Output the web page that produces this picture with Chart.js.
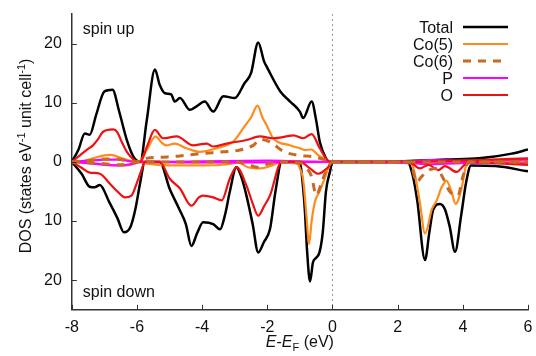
<!DOCTYPE html>
<html>
<head>
<meta charset="utf-8">
<script src="https://cdn.jsdelivr.net/npm/chart.js@4.4.0/dist/chart.umd.min.js"></script>
<style>
  html, body { margin: 0; padding: 0; background: #fff; }
  canvas { display: block; }
</style>
</head>
<body>
<canvas id="chartjs" width="536" height="356" style="width:536px;height:356px"></canvas>
<script>
// [energy (eV), DOS] pairs; "down" values are magnitudes
const totalUp = [[-8,0],[-7.8,2.0],[-7.6,4.8],[-7.45,4.6],[-7.25,8.0],[-7.0,11.9],[-6.75,12.2],[-6.55,8.6],[-6.3,3.5],[-6.1,0.8],[-5.9,0],[-5.7,7],[-5.45,15.6],[-5.3,13],[-5.14,11.6],[-4.95,11.4],[-4.84,10.2],[-4.68,10.8],[-4.38,8.8],[-4.17,9.4],[-3.92,10.2],[-3.66,8.5],[-3.35,11.1],[-3.0,10.8],[-2.7,13.3],[-2.5,15],[-2.28,20.2],[-2.1,17],[-2.0,15.9],[-1.6,11.9],[-1.3,10.2],[-1.0,8.5],[-0.9,7.4],[-0.64,10.2],[-0.5,7],[-0.39,3.4],[-0.2,0.6],[-0.1,0],[1.5,0],[2.5,0.2],[3.5,0.4],[4.5,0.6],[5.5,1.4],[6,2.1]]
const totalDown = [[-8,0],[-7.7,2.0],[-7.45,4.2],[-7.3,4.3],[-7.14,3.9],[-6.85,6.8],[-6.6,9.5],[-6.4,11.9],[-6.2,11.0],[-6.05,8],[-5.9,3.5],[-5.76,0],[-5.3,0],[-5.0,4.5],[-4.7,8.0],[-4.5,10.5],[-4.33,14.2],[-4.15,12],[-3.97,10.2],[-3.66,10.5],[-3.45,11.4],[-3.3,9],[-3.15,5],[-2.95,0.9],[-2.8,2.5],[-2.64,5.7],[-2.45,10.5],[-2.28,15.3],[-2.1,13.5],[-1.92,11.4],[-1.75,5],[-1.56,0],[-1.0,0],[-0.95,1.7],[-0.85,8],[-0.78,15],[-0.69,20.2],[-0.6,17],[-0.5,16.2],[-0.4,15.3],[-0.3,12],[-0.2,5],[-0.08,1.7],[0,0],[2.3,0],[2.45,2],[2.6,6.5],[2.84,16.6],[2.97,12],[3.09,8.1],[3.3,7.1],[3.45,8],[3.6,11],[3.76,15.2],[3.95,9],[4.1,3.5],[4.25,0.6],[5.0,0.7],[6,1.6]]
const co5Up = [[-8,0],[-7.6,0.2],[-7.3,0.7],[-7.0,1.1],[-6.8,1.2],[-6.5,0.7],[-6.2,0.2],[-5.95,0],[-5.7,2],[-5.43,4.3],[-5.25,3.3],[-5.1,2.8],[-4.84,3.1],[-4.48,2.3],[-4.07,1.7],[-3.56,2.3],[-3.05,3.4],[-2.7,6.0],[-2.5,7.5],[-2.3,9.5],[-2.15,7.5],[-2.02,6.2],[-1.82,4.0],[-1.31,2.8],[-1.0,2.3],[-0.85,2.0],[-0.65,2.1],[-0.45,1.2],[-0.28,0.6],[-0.1,0],[6,0]]
const co5Down = [[-8,0],[-7.5,0.2],[-7,0.4],[-6.5,0.6],[-6.2,0.5],[-5.95,0],[-5.7,0.3],[-5,0.6],[-4,0.6],[-3.2,0.4],[-2.9,0.1],[-2.6,0.9],[-2.2,1.1],[-1.9,0.7],[-1.6,0.1],[-1.1,0.3],[-1.0,1.1],[-0.9,3],[-0.8,9],[-0.72,13.9],[-0.64,10],[-0.54,6.8],[-0.4,5],[-0.28,3.4],[-0.1,0.7],[0,0],[2.3,0],[2.48,1],[2.68,6.8],[2.84,12.1],[3.05,8],[3.2,6.5],[3.35,4.3],[3.5,3.2],[3.65,5],[3.78,7.1],[3.96,4.5],[4.1,0.6],[4.2,0],[6,0]]
const co6Up = [[-8,0],[-7.5,0.2],[-7.0,0.5],[-6.6,0.5],[-6.3,0.2],[-6.0,0],[-5.71,0.6],[-5.2,0.8],[-4.68,1.0],[-4.07,1.4],[-3.35,1.7],[-2.84,2.0],[-2.43,2.8],[-2.2,3.8],[-1.92,3.4],[-1.51,1.8],[-1.05,1.1],[-0.55,0.85],[-0.2,0.3],[0,0],[6,0]]
const co6Down = [[-8,0],[-7,0.3],[-6.5,0.5],[-6,0],[-3,0],[-2.6,0.4],[-2.3,0.9],[-2.0,0.4],[-1.6,0],[-1.0,0.2],[-0.8,1.0],[-0.64,2.5],[-0.5,5.6],[-0.35,3.8],[-0.2,1.5],[-0.05,0.2],[0,0],[2.3,0],[2.45,1.2],[2.58,3.4],[2.75,2.4],[3.0,1.3],[3.2,1.1],[3.38,2.6],[3.6,5.0],[3.85,5.7],[4.0,2.5],[4.12,0.5],[4.2,0],[6,0]]
const pUp = [[-8,0],[-7.5,0.2],[-7,0.4],[-6.6,0.4],[-6.2,0.1],[-5.9,0],[-4,0.1],[-2,0.2],[-1,0.1],[0,0],[2.3,0],[3,0.3],[4,0.2],[5,0.3],[6,0.4]]
const pDown = [[-8,0],[-7.5,0.2],[-7,0.5],[-6.5,0.6],[-6.1,0.3],[-5.9,0],[-4,0.1],[-2,0.1],[0,0],[2.4,0.2],[3,0.4],[4,0.2],[5,0.2],[6,0.3]]
const oUp = [[-8,0],[-7.75,1.1],[-7.5,2.2],[-7.35,2.8],[-7.2,3.8],[-7.04,5.1],[-6.73,5.5],[-6.6,5.0],[-6.47,3.4],[-6.3,1.6],[-6.1,0.4],[-5.9,0],[-5.7,2.5],[-5.45,5.4],[-5.2,4.0],[-4.78,4.3],[-4.28,2.8],[-3.86,3.1],[-3.66,2.6],[-3.25,3.1],[-2.64,3.7],[-2.23,4.3],[-1.82,4.0],[-1.41,4.3],[-1.2,4.5],[-0.9,4.0],[-0.64,4.7],[-0.39,2.3],[-0.14,0.2],[0,0],[2.0,0],[4.5,0.3],[6,0.6]]
const oDown = [[-8,0],[-7.7,1.0],[-7.45,1.8],[-7.14,2.0],[-6.83,3.7],[-6.6,5.0],[-6.37,6.0],[-6.17,5.7],[-6.0,3.5],[-5.85,1.2],[-5.76,0],[-5.3,0],[-5.0,2.8],[-4.68,4.5],[-4.33,7.4],[-4.1,6.0],[-3.97,5.7],[-3.66,6.0],[-3.4,6.5],[-3.15,2.8],[-2.94,0.9],[-2.64,4.0],[-2.45,7],[-2.28,9.1],[-2.1,7.5],[-1.92,5.7],[-1.56,0],[-1.0,0],[-0.69,1.1],[-0.44,2.0],[-0.15,1.0],[0,0],[2.3,0],[2.45,0.3],[2.68,1.1],[2.95,0.5],[3.25,1.4],[3.45,0.7],[3.81,1.7],[4.05,0.5],[4.3,0],[5,0.2],[6,0.5]]

const xTicks = [-8, -6, -4, -2, 0, 2, 4, 6]
const yTicks = [-20, -10, 0, 10, 20]

const FONT = '"Liberation Sans", Arial, Helvetica, sans-serif'

// name, up, down, colour, width, dash, draw order (lower = on top)
const series = [
  { name: 'Total', up: totalUp, down: totalDown, color: '#000000', width: 2.5, dash: [], order: 5 },
  { name: 'Co(5)', up: co5Up, down: co5Down, color: '#ff8c1a', width: 2.2, dash: [], order: 4 },
  { name: 'Co(6)', up: co6Up, down: co6Down, color: '#c86a24', width: 3, dash: [8, 7], order: 1 },
  { name: 'P', up: pUp, down: pDown, color: '#ff00ff', width: 2.2, dash: [], order: 3 },
  { name: 'O', up: oUp, down: oDown, color: '#ee1111', width: 2.2, dash: [], order: 2 }
]

function toPoints(pairs, sign) {
  return pairs.map(p => ({ x: p[0], y: sign * p[1] }))
}

const datasets = []
series.forEach(s => {
  [[s.up, 1], [s.down, -1]].forEach(([pairs, sign]) => {
    datasets.push({
      label: s.name,
      data: toPoints(pairs, sign),
      borderColor: s.color,
      borderWidth: s.width,
      borderDash: s.dash,
      pointRadius: 0,
      fill: false,
      cubicInterpolationMode: 'monotone',
      order: s.order
    })
  })
})

const extras = {
  id: 'extras',
  beforeDatasetsDraw(chart) {
    const { ctx, chartArea, scales } = chart
    const x0 = scales.x.getPixelForValue(0)
    ctx.save()
    ctx.strokeStyle = '#9a9a9a'
    ctx.lineWidth = 1
    ctx.setLineDash([2, 3])
    ctx.beginPath()
    ctx.moveTo(x0, chartArea.top)
    ctx.lineTo(x0, chartArea.bottom)
    ctx.stroke()
    ctx.restore()
  },
  afterDraw(chart) {
    const { ctx, chartArea, scales } = chart
    ctx.save()
    ctx.strokeStyle = '#333'
    ctx.lineWidth = 1
    // inward tick marks
    xTicks.forEach(v => {
      const px = Math.round(scales.x.getPixelForValue(v)) + 0.5
      ctx.beginPath(); ctx.moveTo(px, chartArea.bottom); ctx.lineTo(px, chartArea.bottom - 5); ctx.stroke()
    })
    yTicks.forEach(v => {
      const py = Math.round(scales.y.getPixelForValue(v)) + 0.5
      ctx.beginPath(); ctx.moveTo(chartArea.left, py); ctx.lineTo(chartArea.left + 5, py); ctx.stroke()
    })

    ctx.fillStyle = '#111'
    ctx.font = '16px ' + FONT
    ctx.textAlign = 'left'
    ctx.textBaseline = 'alphabetic'
    ctx.fillText('spin up', chartArea.left + 11, 34)
    ctx.fillText('spin down', chartArea.left + 11, 297)

    // legend: text right-aligned, sample line to the right
    series.forEach((s, i) => {
      const y = 27 + i * 17
      ctx.textAlign = 'right'
      ctx.fillStyle = '#111'
      ctx.fillText(s.name, 453, y + 6)
      ctx.strokeStyle = s.color
      ctx.lineWidth = s.width
      ctx.setLineDash(s.dash)
      ctx.beginPath(); ctx.moveTo(463, y); ctx.lineTo(508, y); ctx.stroke()
      ctx.setLineDash([])
    })

    // x-axis title: E-E_F (eV)
    const it = 'italic 16px ' + FONT, rg = '16px ' + FONT, sm = '11px ' + FONT
    const parts = [['E', it, 0], ['-', rg, 0], ['E', it, 0], ['F', sm, 4], [' (eV)', rg, 0]]
    let w = 0
    parts.forEach(p => { ctx.font = p[1]; w += ctx.measureText(p[0]).width })
    let x = (chartArea.left + chartArea.right) / 2 - w / 2
    ctx.textAlign = 'left'
    ctx.fillStyle = '#111'
    parts.forEach(p => { ctx.font = p[1]; ctx.fillText(p[0], x, 347 + p[2]); x += ctx.measureText(p[0]).width })

    // y-axis title with superscripts
    const yparts = [['DOS (states eV', rg, 0], ['-1', sm, -6], [' unit cell', rg, 0], ['-1', sm, -6], [')', rg, 0]]
    w = 0
    yparts.forEach(p => { ctx.font = p[1]; w += ctx.measureText(p[0]).width })
    ctx.translate(31, 156)
    ctx.rotate(-Math.PI / 2)
    x = -w / 2
    yparts.forEach(p => { ctx.font = p[1]; ctx.fillText(p[0], x, p[2]); x += ctx.measureText(p[0]).width })
    ctx.restore()
  }
}

new Chart(document.getElementById('chartjs').getContext('2d'), {
  type: 'line',
  data: { datasets: datasets },
  options: {
    responsive: false,
    animation: false,
    layout: { padding: { left: 34, right: 8, top: 14, bottom: 11 } },
    plugins: { legend: { display: false }, tooltip: { enabled: false } },
    scales: {
      x: {
        type: 'linear', min: -8, max: 6,
        afterBuildTicks: axis => { axis.ticks = xTicks.map(v => ({ value: v })) },
        afterFit: axis => { axis.paddingLeft = 0; axis.paddingRight = 0 },
        ticks: { color: '#111', font: { size: 16, family: FONT }, padding: 8, maxRotation: 0 },
        grid: { display: false, drawTicks: false },
        border: { display: true, color: '#333', width: 1.5 }
      },
      y: {
        type: 'linear', min: -25, max: 25,
        afterBuildTicks: axis => { axis.ticks = yTicks.map(v => ({ value: v })) },
        afterFit: axis => { axis.paddingTop = 0; axis.paddingBottom = 0 },
        ticks: { color: '#111', font: { size: 16, family: FONT }, padding: 10, callback: v => Math.abs(v) },
        grid: { display: false, drawTicks: false },
        border: { display: true, color: '#333', width: 1.5 }
      }
    }
  },
  plugins: [extras]
})
</script>
</body>
</html>
